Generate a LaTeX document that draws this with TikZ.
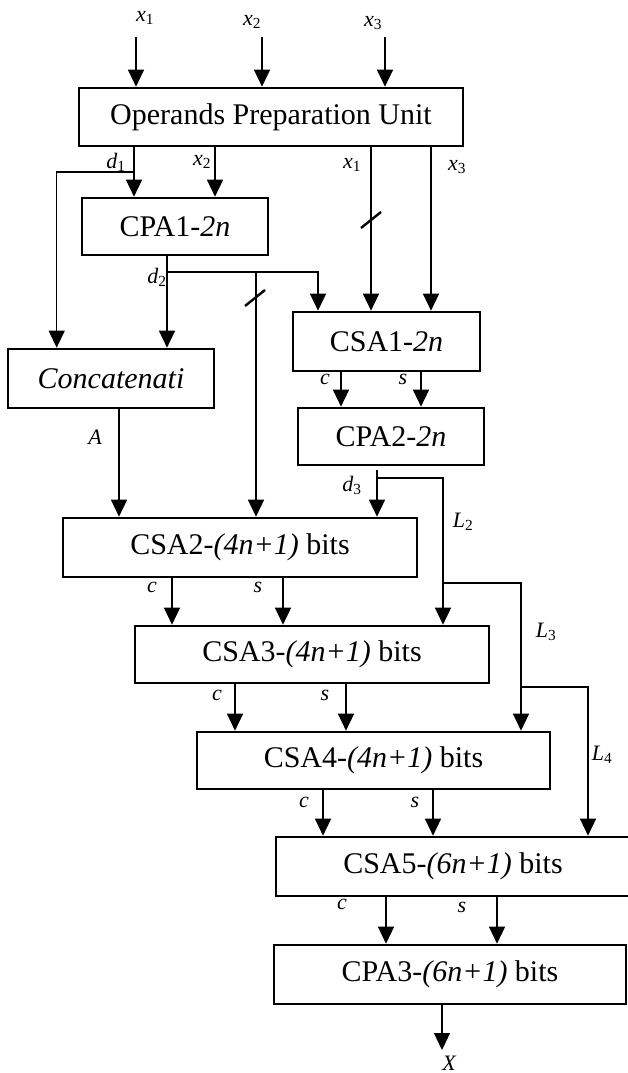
\documentclass[tikz,border=0pt]{standalone}
\usepackage{fontspec}
\setmainfont{Liberation Serif}
\usetikzlibrary{arrows.meta}
\newcommand{\sig}[2]{\textit{#1}\textsubscript{\upshape #2}}

\begin{document}
\begin{tikzpicture}[x=1pt, y=-1pt,
  box/.style={draw, line width=2.6pt, minimum height=58pt, inner sep=0pt,
    font=\fontsize{30}{34}\selectfont},
  lbl/.style={font=\fontsize{22}{24}\selectfont\itshape, inner sep=0pt},
  arw/.style={-{Triangle[width=16pt, length=17pt]}, line width=1.3pt},
  bus/.style={line width=2.4pt},
]
\useasboundingbox (0,0) rectangle (627,1073);

% ---- blocks ----
\node[box, minimum width=384pt] (opu) at (271,117) {Operands Preparation Unit};
\node[box, minimum width=186pt, minimum height=57pt] (cpa1) at (175,226.5) {CPA1-\textit{2n}};
\node[box, minimum width=187pt, minimum height=59pt] (csa1) at (386.5,341.5) {CSA1-\textit{2n}};
\node[box, minimum width=206pt, minimum height=59pt] (concat) at (111,378.5) {\textit{Concatenati}};
\node[box, minimum width=186pt, minimum height=57pt] (cpa2) at (391,436.5) {CPA2-\textit{2n}};
\node[box, minimum width=354pt, minimum height=59pt] (csa2) at (240,547.5) {CSA2-\textit{(4n+1)} bits};
\node[box, minimum width=354pt, minimum height=57pt] (csa3) at (312,654.5) {CSA3-\textit{(4n+1)} bits};
\node[box, minimum width=353pt, minimum height=57pt] (csa4) at (373.5,760.5) {CSA4-\textit{(4n+1)} bits};
\node[box, minimum width=354pt, minimum height=59pt] (csa5) at (453,866.5) {CSA5-\textit{(6n+1)} bits};
\node[box, minimum width=352pt, minimum height=59pt] (cpa3) at (450,974.5) {CPA3-\textit{(6n+1)} bits};

% ---- inputs, branch points, output ----
\coordinate (in1) at (136,37);
\coordinate (in2) at (262,37);
\coordinate (in3) at (385,37);
\coordinate (j1) at (134,172);
\coordinate (j2) at (167,272);
\coordinate (j3) at (377,478);
\coordinate (j4) at (443,583);
\coordinate (j5) at (521,687);
\coordinate (out) at (442,1050);

\draw[arw] (in1) -- (in1 |- opu.north);
\draw[arw] (in2) -- (in2 |- opu.north);
\draw[arw] (in3) -- (in3 |- opu.north);

% ---- operands unit outputs ----
\draw[arw] (opu.south -| j1) -- (cpa1.north -| j1);
\draw[arw] (j1) -| ([xshift=50pt]concat.north west);
\draw[arw] ([xshift=40pt]cpa1.north |- opu.south) -- ([xshift=40pt]cpa1.north);
\draw[arw] ([xshift=-15.5pt]csa1.north |- opu.south) -- ([xshift=-15.5pt]csa1.north);
\draw[arw] ([xshift=44.5pt]csa1.north |- opu.south) -- ([xshift=44.5pt]csa1.north);

% ---- d2 ----
\draw[arw] (cpa1.south -| j2) -- (concat.north -| j2);
\draw[arw] (j2) -| ([xshift=-68.5pt]csa1.north);
\draw[arw] ([xshift=16pt]csa2.north |- j2) -- ([xshift=16pt]csa2.north);

% ---- csa1 -> cpa2 ----
\draw[arw] ([xshift=-45.5pt]csa1.south) -- ([xshift=-45.5pt]csa1.south |- cpa2.north);
\draw[arw] ([xshift=34.5pt]csa1.south) -- ([xshift=34.5pt]csa1.south |- cpa2.north);

% ---- A ----
\draw[arw] ([xshift=8pt]concat.south) -- ([xshift=8pt]concat.south |- csa2.north);

% ---- d3 and L2..L4 ----
\draw[arw, shorten <=4pt] (cpa2.south -| j3) -- (csa2.north -| j3);
\draw[arw] (j3) -| (csa3.north -| j4);
\draw[arw] (j4) -| (csa4.north -| j5);
\draw[arw] (j5) -| ([xshift=135pt]csa5.north);

% ---- carry / sum ----
\draw[arw] ([xshift=-68pt]csa2.south) -- ([xshift=-68pt]csa2.south |- csa3.north);
\draw[arw] ([xshift=43pt]csa2.south) -- ([xshift=43pt]csa2.south |- csa3.north);
\draw[arw] ([xshift=-77pt]csa3.south) -- ([xshift=-77pt]csa3.south |- csa4.north);
\draw[arw] ([xshift=34pt]csa3.south) -- ([xshift=34pt]csa3.south |- csa4.north);
\draw[arw] ([xshift=-50.5pt]csa4.south) -- ([xshift=-50.5pt]csa4.south |- csa5.north);
\draw[arw] ([xshift=59.5pt]csa4.south) -- ([xshift=59.5pt]csa4.south |- csa5.north);
\draw[arw] ([xshift=-67pt]csa5.south) -- ([xshift=-67pt]csa5.south |- cpa3.north);
\draw[arw] ([xshift=44pt]csa5.south) -- ([xshift=44pt]csa5.south |- cpa3.north);
\draw[arw] (cpa3.south -| out) -- (out);

% ---- bus marks ----
\draw[bus] (361,228) -- (381,212);
\draw[bus] (245,306) -- (265,290);

% ---- labels ----
\node[lbl] (l-x1) at (145,18) {\sig{x}{1}};
\node[lbl] (l-x2) at (252,22) {\sig{x}{2}};
\node[lbl] (l-x3) at (373,23) {\sig{x}{3}};
\node[lbl] (l-d1) at (116,162) {\sig{d}{1}};
\node[lbl] (l-x2b) at (202,162) {\sig{x}{2}};
\node[lbl] (l-x1b) at (352,165) {\sig{x}{1}};
\node[lbl] (l-x3b) at (457,167) {\sig{x}{3}};
\node[lbl] (l-d2) at (157,277) {\sig{d}{2}};
\node[lbl] (l-c1) at (325,379) {c};
\node[lbl] (l-s1) at (403,379) {s};
\node[lbl] (l-a) at (95,437) {A};
\node[lbl] (l-d3) at (352,485) {\sig{d}{3}};
\node[lbl] (l-l2) at (463,522) {\sig{L}{2}};
\node[lbl] (l-c2) at (152,587) {c};
\node[lbl] (l-s2) at (258,587) {s};
\node[lbl] (l-l3) at (546,632) {\sig{L}{3}};
\node[lbl] (l-c3) at (217,695) {c};
\node[lbl] (l-s3) at (325,695) {s};
\node[lbl] (l-l4) at (602,755) {\sig{L}{4}};
\node[lbl] (l-c4) at (304,802) {c};
\node[lbl] (l-s4) at (415,802) {s};
\node[lbl] (l-c5) at (342,904) {c};
\node[lbl] (l-s5) at (462,907) {s};
\node[lbl] (l-x) at (449,1063) {X};

\end{tikzpicture}
\end{document}
